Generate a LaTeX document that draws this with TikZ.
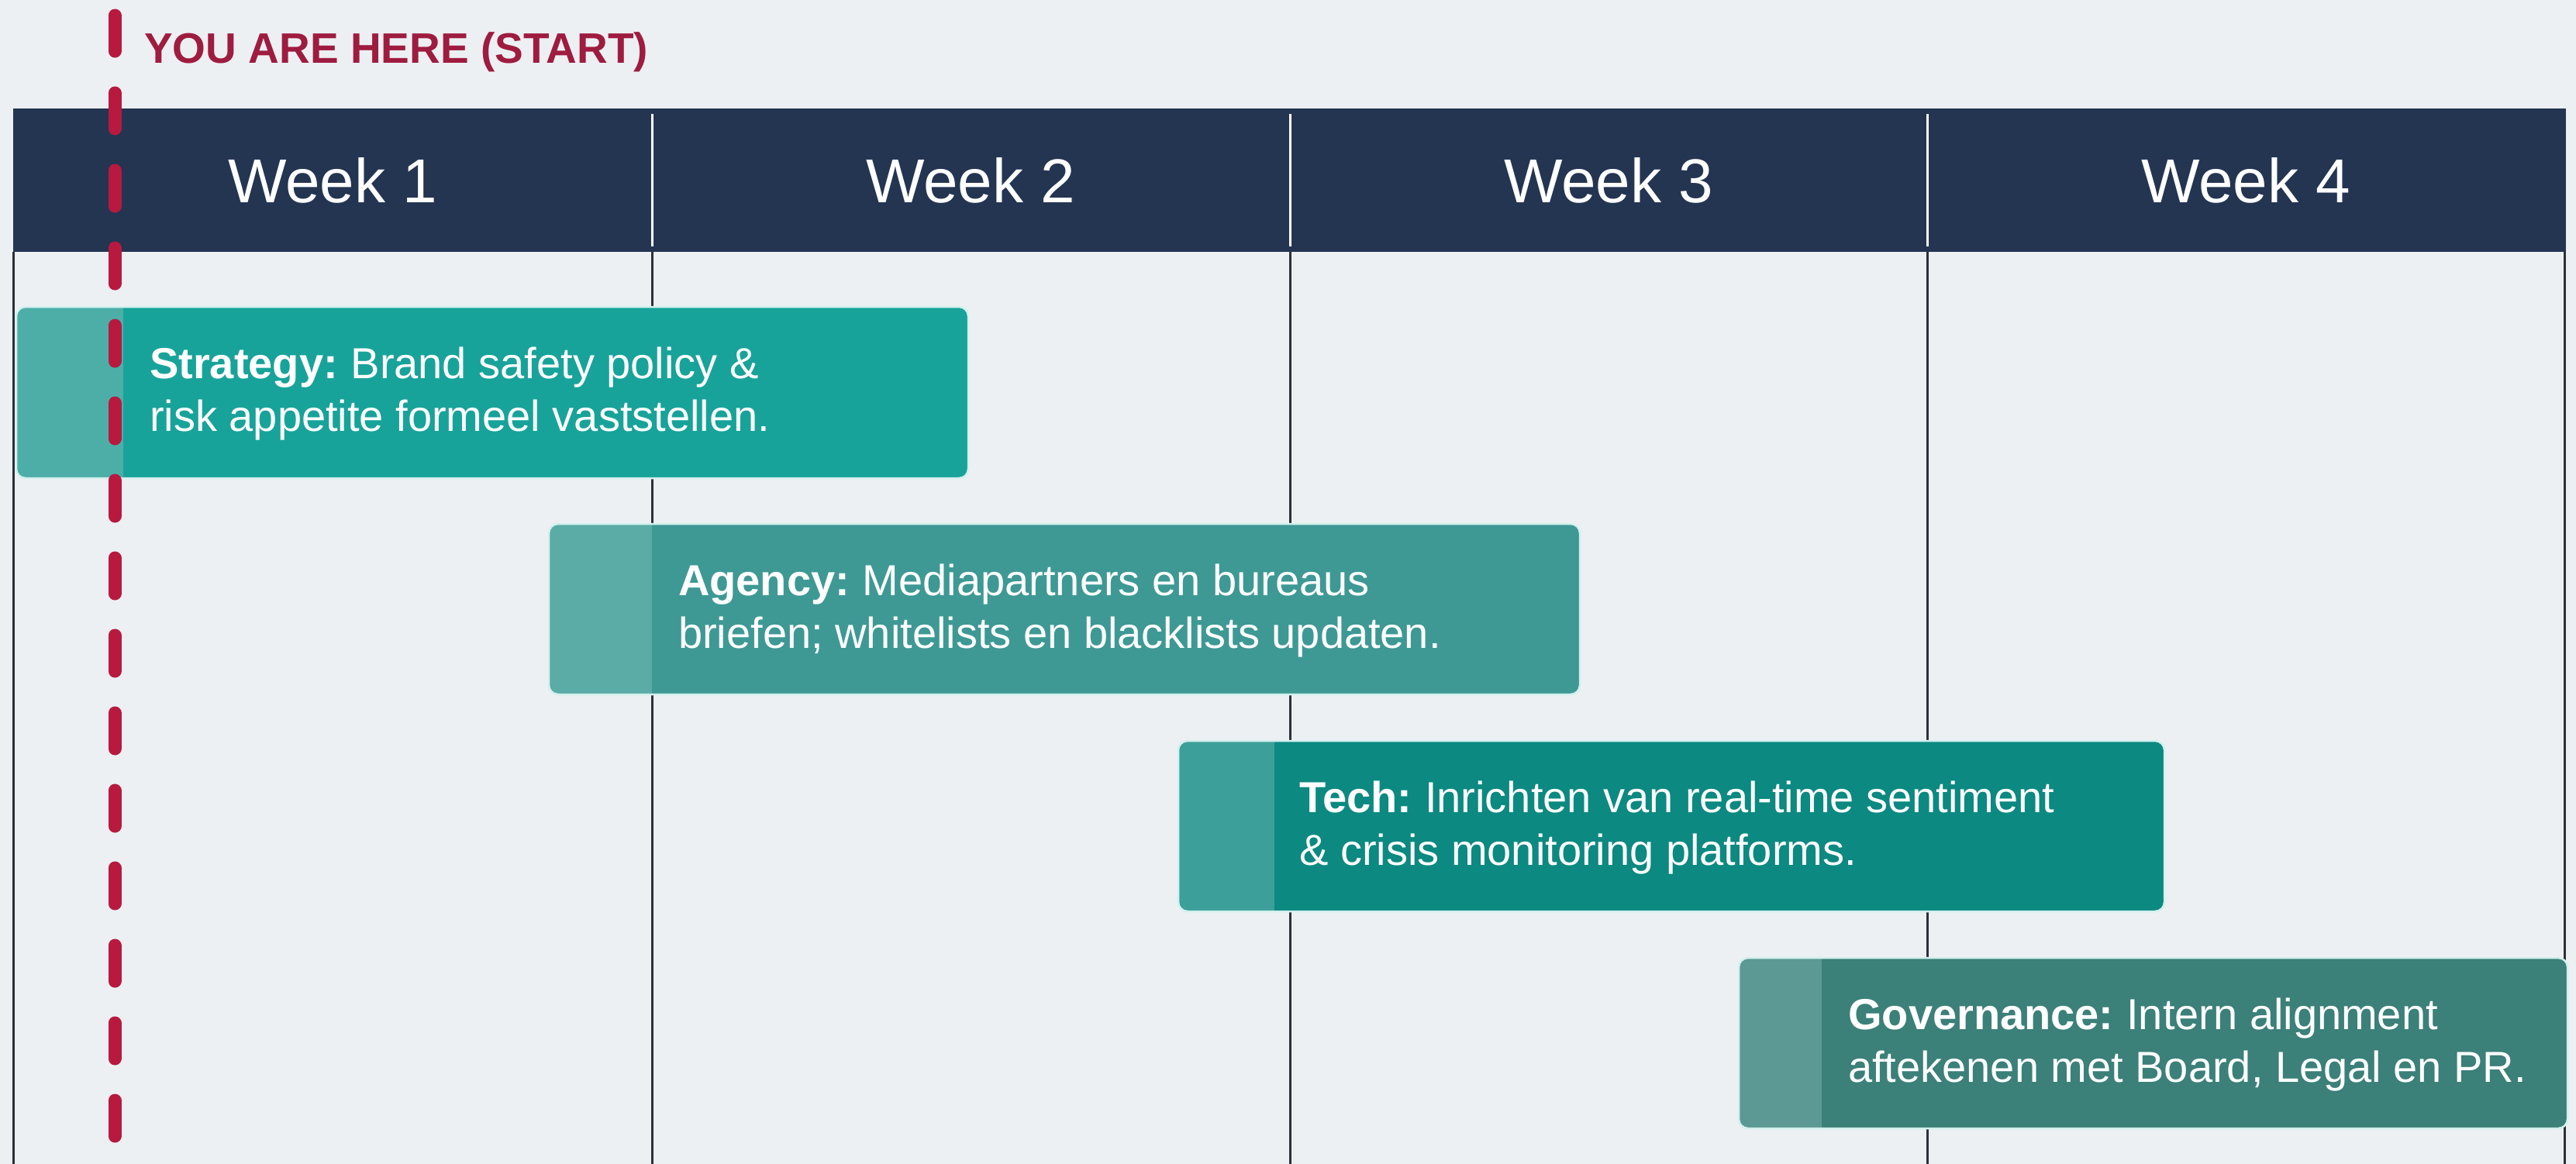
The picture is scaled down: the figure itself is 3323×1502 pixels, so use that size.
\documentclass[tikz,border=0pt]{standalone}
\usepackage{fontspec}
\setmainfont{Liberation Sans}
\definecolor{bgc}{HTML}{EDF0F2}
\definecolor{navy}{HTML}{243552}
\definecolor{gridc}{HTML}{2C3038}
\definecolor{redc}{HTML}{B8193F}
\definecolor{redtxt}{HTML}{9E1C3F}
\definecolor{sMain}{HTML}{18A39A}
\definecolor{sBand}{HTML}{4DAEA8}
\definecolor{aMain}{HTML}{3E9995}
\definecolor{aBand}{HTML}{5BABA6}
\definecolor{tMain}{HTML}{0C8981}
\definecolor{tBand}{HTML}{3D9F99}
\definecolor{gMain}{HTML}{3B8079}
\definecolor{gBand}{HTML}{5D9994}
\definecolor{glow}{HTML}{D3F0EE}
\tikzset{
  weeklabel/.style={text=white, font=\fontsize{80}{90}\selectfont, inner sep=0pt},
  bartext/.style={text=white, align=left, anchor=west, inner sep=0pt, font=\fontsize{56}{68}\selectfont},
  gridline/.style={draw=gridc, line width=3pt},
  hdrline/.style={draw=white, line width=3pt},
  barframe/.style={draw=glow, line width=2.5pt, rounded corners=12pt},
  youhere/.style={text=redtxt, font=\bfseries\fontsize{55}{60}\selectfont, inner sep=0pt, anchor=west},
  redline/.style={draw=redc, line width=17pt, line cap=round, dash pattern=on 46pt off 54pt}
}
\begin{document}
\begin{tikzpicture}[x=1pt,y=-1pt]
\fill[bgc] (0,0) rectangle (3323,1502);
\useasboundingbox (0,0) rectangle (3323,1502);

% column coordinates
\coordinate (c0t) at (17,325);   \coordinate (c0b) at (17,1502);
\coordinate (c1t) at (841,325);  \coordinate (c1b) at (841,1502);
\coordinate (c2t) at (1664,325); \coordinate (c2b) at (1664,1502);
\coordinate (c3t) at (2486,325); \coordinate (c3b) at (2486,1502);
\coordinate (c4t) at (3308,325); \coordinate (c4b) at (3308,1502);

% body grid lines
\foreach \i in {0,...,4} { \draw[gridline] (c\i t) -- (c\i b); }

% header
\fill[navy] (17,140) rectangle (3310,325);
\coordinate (h1t) at (841,147);  \coordinate (h1b) at (841,318);
\coordinate (h2t) at (1664,147); \coordinate (h2b) at (1664,318);
\coordinate (h3t) at (2486,147); \coordinate (h3b) at (2486,318);
\foreach \i in {1,2,3} { \draw[hdrline] (h\i t) -- (h\i b); }
\node[weeklabel] (w1) at (429,233) {Week 1};
\node[weeklabel] (w2) at (1252,233) {Week 2};
\node[weeklabel] (w3) at (2075,233) {Week 3};
\node[weeklabel] (w4) at (2897,233) {Week 4};

% bars
\newcommand{\ganttbar}[7]{% x1,y1,xband,x2,y2,band,main
  \begin{scope}
    \clip[rounded corners=12pt] (#1,#2) rectangle (#4,#5);
    \fill[#6] (#1,#2) rectangle (#3,#5);
    \fill[#7] (#3,#2) rectangle (#4,#5);
  \end{scope}
  \draw[barframe] (#1,#2) rectangle (#4,#5);
}
\ganttbar{21}{396}{159}{1249}{617}{sBand}{sMain}
\ganttbar{708}{676}{841}{2038}{896}{aBand}{aMain}
\ganttbar{1520}{956}{1644}{2792}{1176}{tBand}{tMain}
\ganttbar{2243}{1236}{2350}{3312}{1456}{gBand}{gMain}

\node[bartext] (strategy) at (193,508) {\textbf{Strategy:}\hspace{-4pt} Brand safety policy \&\\risk appetite formeel vaststellen.};
\node[bartext] (agency) at (875,788) {\textbf{Agency:}\hspace{-4pt} Mediapartners en bureaus\\briefen; whitelists en blacklists updaten.};
\node[bartext] (tech) at (1676,1068) {\textbf{Tech:}\hspace{-4pt} Inrichten van real-time sentiment\\\& crisis monitoring platforms.};
\node[bartext] (gov) at (2384,1348) {\textbf{Governance:}\hspace{-4pt} Intern alignment\\aftekenen met Board, Legal en PR.};

% you are here
\coordinate (rtop) at (148,20);
\coordinate (rbot) at (148,1510);
\draw[redline] (rtop) -- (rbot);
\node[youhere] (here) at (186,67) {YOU ARE HERE (START)};
\end{tikzpicture}
\end{document}
